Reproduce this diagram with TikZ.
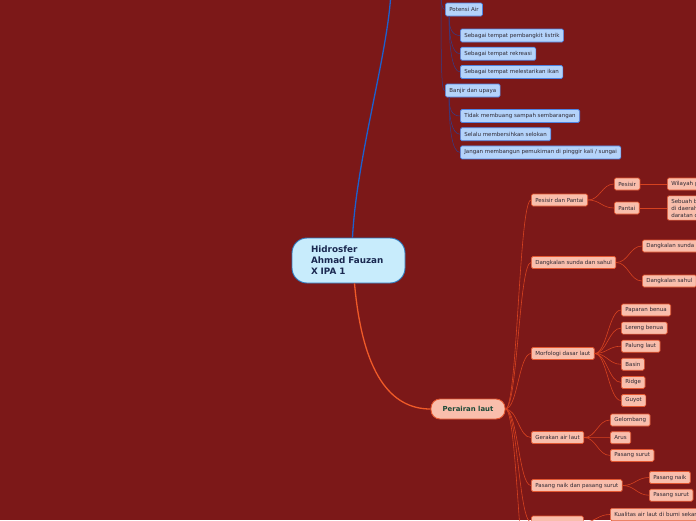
\documentclass[tikz,border=0pt]{standalone}
\usepackage{fontspec}
\setmainfont{DejaVu Sans}
\usepackage{xcolor}
\usepackage{tikz}
\usetikzlibrary{positioning}

\definecolor{bgred}{RGB}{124,24,24}
\definecolor{hidfill}{RGB}{200,236,252}
\definecolor{hiddraw}{RGB}{46,122,190}
\definecolor{hidtext}{RGB}{26,40,80}
\definecolor{airline}{RGB}{30,96,205}
\definecolor{airfill}{RGB}{180,211,250}
\definecolor{airdraw}{RGB}{78,132,226}
\definecolor{airlinkc}{RGB}{50,62,140}
\definecolor{lautline}{RGB}{240,90,40}
\definecolor{lautfill}{RGB}{249,190,172}
\definecolor{lautdraw}{RGB}{228,88,50}
\definecolor{lautlinkc}{RGB}{214,66,32}
\definecolor{lauttext}{RGB}{28,74,56}
\definecolor{leaftext}{RGB}{45,40,50}

\begin{document}
\begin{tikzpicture}[
    x=1pt, y=-1pt,
    root/.style={draw=hiddraw, fill=hidfill, line width=0.9pt, rounded corners=15pt,
                 minimum width=113pt, minimum height=45pt, text width=75pt, align=left,
                 inner xsep=19pt, text=hidtext, font=\fontsize{8.8}{11}\selectfont\bfseries},
    topic/.style={draw=lautdraw, fill=lautfill, line width=0.9pt, rounded corners=9pt,
                  minimum width=74pt, minimum height=20pt, text=lauttext,
                  font=\fontsize{6.9}{8}\selectfont\bfseries},
    airbox/.style={draw=airdraw, fill=airfill, line width=0.7pt, rounded corners=1.5pt,
                   minimum height=13pt, inner xsep=4pt, inner ysep=1pt, text=leaftext,
                   font=\fontsize{5.5}{7}\selectfont, anchor=west},
    lautbox/.style={draw=lautdraw, fill=lautfill, line width=0.7pt, rounded corners=1.5pt,
                    minimum height=12pt, inner xsep=4pt, inner ysep=1pt, text=leaftext,
                    font=\fontsize{5.5}{7}\selectfont, anchor=west},
    mainedge/.style={line width=1.3pt},
    airedge/.style={draw=airlinkc, line width=0.5pt},
    lautedge/.style={draw=lautlinkc, line width=0.6pt}
]

% background
\fill[bgred] (0,0) rectangle (696,520);
\useasboundingbox (0,0) rectangle (696,520);

% central topic
\node[root] (hid) at (348.5,260.5) {Hidrosfer\\Ahmad Fauzan\\X IPA 1};
\coordinate (atas) at (391,-10);
\coordinate (hulu) at (441,-10);

% Potensi air / banjir (blue branch)
\node[airbox] (pot) at (445,9.5) {Potensi Air};
\node[airbox] (pot1) at (460,35.5) {Sebagai tempat pembangkit listrik};
\node[airbox, below right=4.5pt and 0pt of pot1.south west] (pot2) {Sebagai tempat rekreasi};
\node[airbox, below right=4.5pt and 0pt of pot2.south west] (pot3) {Sebagai tempat melestarikan ikan};

\node[airbox] (bjr) at (445,90.5) {Banjir dan upaya};
\node[airbox] (bjr1) at (460,116) {Tidak membuang sampah sembarangan};
\node[airbox, below right=4.5pt and 0pt of bjr1.south west] (bjr2) {Selalu membersihkan selokan};
\node[airbox, below right=4.5pt and 0pt of bjr2.south west] (bjr3) {Jangan membangun pemukiman di pinggir kali / sungai};

\draw[mainedge, airline] ([xshift=4pt]hid.north) .. controls +(4,-80) and +(-2,60) .. (atas);
\draw[airedge] (hulu) .. controls +(0,14) and +(-3,0) .. (pot.west);
\draw[airedge] (hulu) .. controls +(0,95) and +(-3,0) .. (bjr.west);
\draw[airedge] ([xshift=4pt]pot.south west) .. controls +(0,12) and +(-8,0) .. (pot1.west);
\draw[airedge] ([xshift=4pt]pot.south west) .. controls +(0,20) and +(-8,0) .. (pot2.west);
\draw[airedge] ([xshift=4pt]pot.south west) .. controls +(0,30) and +(-8,0) .. (pot3.west);
\draw[airedge] ([xshift=4pt]bjr.south west) .. controls +(0,12) and +(-8,0) .. (bjr1.west);
\draw[airedge] ([xshift=4pt]bjr.south west) .. controls +(0,20) and +(-8,0) .. (bjr2.west);
\draw[airedge] ([xshift=4pt]bjr.south west) .. controls +(0,30) and +(-8,0) .. (bjr3.west);

% Perairan laut (orange branch)
\node[topic] (laut) at (468,409) {Perairan laut};

\node[lautbox] (pp) at (531,200) {Pesisir dan Pantai};
\node[lautbox] (ps) at (614,184) {Pesisir};
\node[lautbox] (pt) at (614,208) {Pantai};
\node[lautbox, text width=40pt, align=left] (wp) at (667,184) {Wilayah p};
\node[lautbox, text width=40pt, align=left, inner ysep=3pt] (sb) at (667,208) {Sebuah b\\di daerah\\daratan d};

\node[lautbox] (ds) at (531,262.5) {Dangkalan sunda dan sahul};
\node[lautbox] (dsu) at (642,246) {Dangkalan sunda};
\node[lautbox] (dsa) at (642,281) {Dangkalan sahul};

\node[lautbox] (md) at (531,353.5) {Morfologi dasar laut};
\node[lautbox] (mf1) at (621,310) {Paparan benua};
\node[lautbox, below right=5.4pt and 0pt of mf1.south west] (mf2) {Lereng benua};
\node[lautbox, below right=5.4pt and 0pt of mf2.south west] (mf3) {Palung laut};
\node[lautbox, below right=5.4pt and 0pt of mf3.south west] (mf4) {Basin};
\node[lautbox, below right=5.4pt and 0pt of mf4.south west] (mf5) {Ridge};
\node[lautbox, below right=5.4pt and 0pt of mf5.south west] (mf6) {Guyot};

\node[lautbox] (ga) at (531,437.5) {Gerakan air laut};
\node[lautbox] (ga1) at (610,420) {Gelombang};
\node[lautbox, below right=5pt and 0pt of ga1.south west] (ga2) {Arus};
\node[lautbox, below right=5pt and 0pt of ga2.south west] (ga3) {Pasang surut};

\node[lautbox] (pn) at (531,485.5) {Pasang naik dan pasang surut};
\node[lautbox] (pn1) at (649,477.5) {Pasang naik};
\node[lautbox, below right=5pt and 0pt of pn1.south west] (pn2) {Pasang surut};

\node[lautbox, minimum width=52pt] (kq) at (531,522) {};
\node[lautbox, anchor=north west, text width=90pt, align=left, minimum height=0pt,
      inner ysep=4pt] (kq1) at (610,508) {Kualitas air laut di bumi sekar};
\coordinate (lanjut) at (531,600);

\draw[mainedge, lautline] ([xshift=6pt]hid.south) .. controls +(8,90) and +(-40,0) .. (laut.west);
\draw[lautedge] (laut.east) .. controls +(12,0) and +(-12,0) .. (pp.west);
\draw[lautedge] (laut.east) .. controls +(12,0) and +(-12,0) .. (ds.west);
\draw[lautedge] (laut.east) .. controls +(12,0) and +(-12,0) .. (md.west);
\draw[lautedge] (laut.east) .. controls +(12,0) and +(-12,0) .. (ga.west);
\draw[lautedge] (laut.east) .. controls +(12,0) and +(-12,0) .. (pn.west);
\draw[lautedge] (laut.east) .. controls +(12,0) and +(-12,0) .. (kq.west);
\draw[lautedge] (laut.east) .. controls +(12,0) and +(-12,0) .. (lanjut);

\draw[lautedge] (pp.east) .. controls +(12,0) and +(-12,0) .. (ps.west);
\draw[lautedge] (pp.east) .. controls +(12,0) and +(-12,0) .. (pt.west);
\draw[lautedge] (ps.east) -- (wp.west);
\draw[lautedge] (pt.east) -- (sb.west);
\draw[lautedge] (ds.east) .. controls +(12,0) and +(-12,0) .. (dsu.west);
\draw[lautedge] (ds.east) .. controls +(12,0) and +(-12,0) .. (dsa.west);
\draw[lautedge] (md.east) .. controls +(12,0) and +(-12,0) .. (mf1.west);
\draw[lautedge] (md.east) .. controls +(12,0) and +(-12,0) .. (mf2.west);
\draw[lautedge] (md.east) .. controls +(12,0) and +(-12,0) .. (mf3.west);
\draw[lautedge] (md.east) .. controls +(12,0) and +(-12,0) .. (mf4.west);
\draw[lautedge] (md.east) .. controls +(12,0) and +(-12,0) .. (mf5.west);
\draw[lautedge] (md.east) .. controls +(12,0) and +(-12,0) .. (mf6.west);
\draw[lautedge] (ga.east) .. controls +(12,0) and +(-12,0) .. (ga1.west);
\draw[lautedge] (ga.east) .. controls +(12,0) and +(-12,0) .. (ga2.west);
\draw[lautedge] (ga.east) .. controls +(12,0) and +(-12,0) .. (ga3.west);
\draw[lautedge] (pn.east) .. controls +(12,0) and +(-12,0) .. (pn1.west);
\draw[lautedge] (pn.east) .. controls +(12,0) and +(-12,0) .. (pn2.west);
\draw[lautedge] (kq.east) .. controls +(12,0) and +(-12,0) .. (kq1.west);

\end{tikzpicture}
\end{document}
